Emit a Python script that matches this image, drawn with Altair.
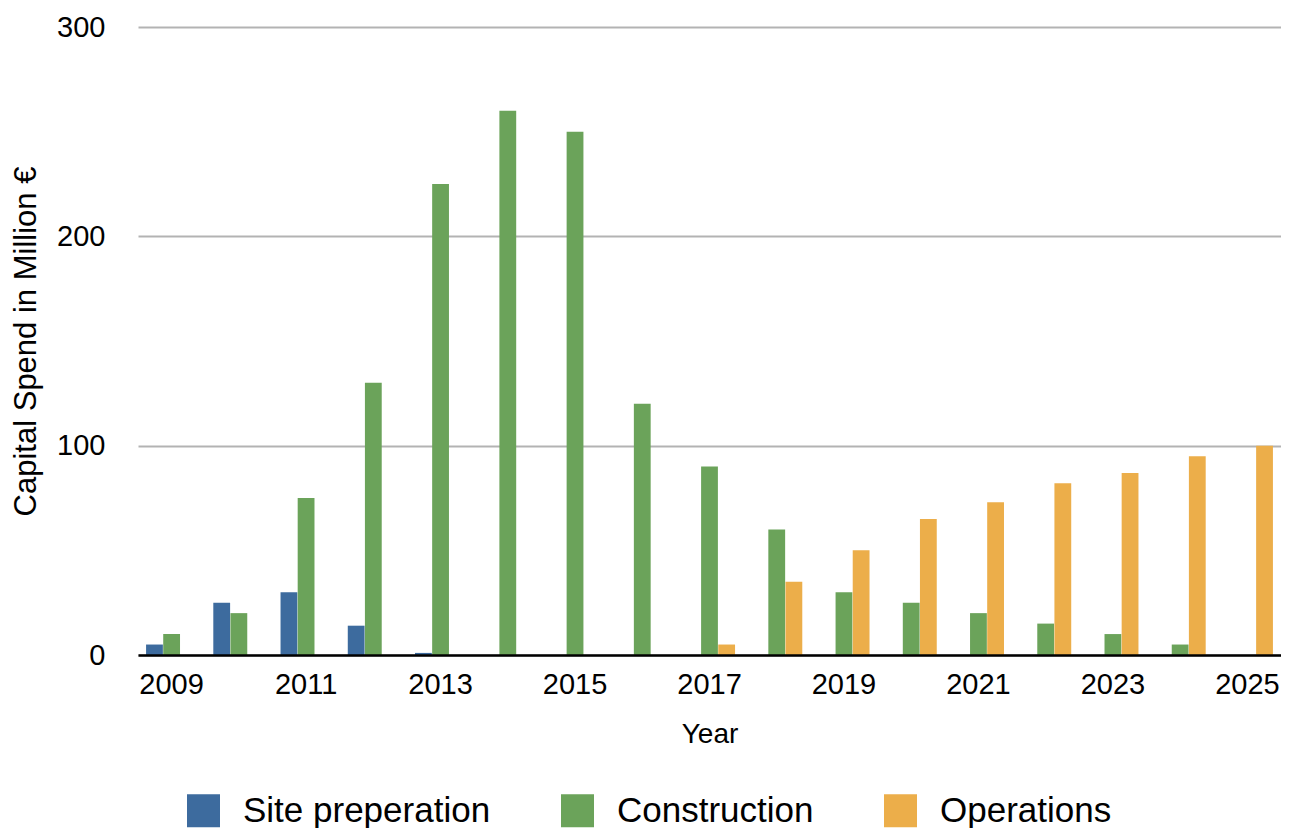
import altair as alt
import pandas as pd

years = list(range(2009, 2026))
series = ["Site preperation", "Construction", "Operations"]
site_prep = [5, 25, 30, 14, 1, 0, 0, 0, 0, 0, 0, 0, 0, 0, 0, 0, 0]
construction = [10, 20, 75, 130, 225, 260, 250, 120, 90, 60, 30, 25, 20, 15, 10, 5, 0]
operations = [0, 0, 0, 0, 0, 0, 0, 0, 5, 35, 50, 65, 73, 82, 87, 95, 100]
colors = ["#3d6b9e", "#6ba35a", "#ecae4a"]
x_label_years = [2009, 2011, 2013, 2015, 2017, 2019, 2021, 2023, 2025]

rows = []
for name, vals in zip(series, [site_prep, construction, operations]):
    for y, v in zip(years, vals):
        rows.append({"Year": y, "Series": name, "Value": v})
df = pd.DataFrame(rows)

FONT = "Liberation Sans"

chart = alt.Chart(df).mark_bar().encode(
    x=alt.X("Year:O", title="Year",
            scale=alt.Scale(paddingInner=0.24, paddingOuter=0.12),
            axis=alt.Axis(values=x_label_years, labelAngle=0, ticks=False,
                          domainColor="#000000", domainWidth=2.5,
                          labelFontSize=29, titleFontSize=28,
                          labelPadding=15, titlePadding=21,
                          labelColor="#000000", titleColor="#000000",
                          titleFontWeight="normal", zindex=1)),
    xOffset=alt.XOffset("Series:N", sort=series,
                        scale=alt.Scale(domain=series, paddingInner=0.02)),
    y=alt.Y("Value:Q", title="Capital Spend in Million €",
            scale=alt.Scale(domain=[0, 300], nice=False),
            axis=alt.Axis(values=[0, 100, 200, 300], ticks=False, domain=False,
                          gridColor="#b3b3b3", gridWidth=2,
                          labelFontSize=29, titleFontSize=31,
                          labelPadding=33, titlePadding=14,
                          labelColor="#000000", titleColor="#000000",
                          titleFontWeight="normal")),
    color=alt.Color("Series:N", sort=series,
                    scale=alt.Scale(domain=series, range=colors),
                    legend=alt.Legend(title=None, orient="none", direction="horizontal",
                                      legendX=48, legendY=766, padding=0,
                                      symbolType="square", symbolSize=1089,
                                      symbolStrokeWidth=0, labelFontSize=35,
                                      labelLimit=0,
                                      labelColor="#000000", labelOffset=22,
                                      columnPadding=69)),
).properties(
    width=1143, height=628,
    padding={"left": 2, "top": 5, "right": 0, "bottom": 0},
).configure(
    font=FONT,
).configure_view(
    stroke=None,
)

chart.save("out.html", embed_options={"renderer": "svg", "actions": False})
